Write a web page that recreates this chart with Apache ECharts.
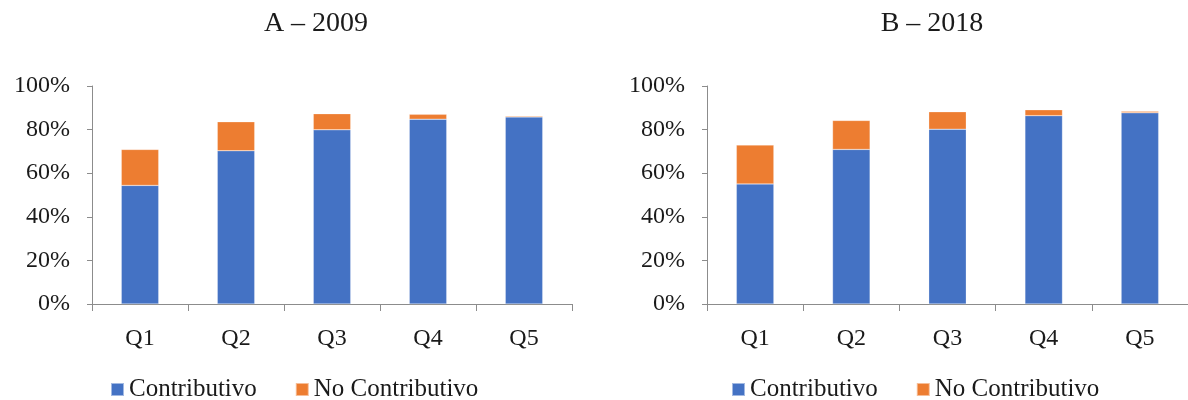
<!DOCTYPE html>
<html>
<head>
<meta charset="utf-8">
<script src="https://cdn.jsdelivr.net/npm/echarts@6/dist/echarts.min.js"></script>
<style>
  html, body { margin: 0; padding: 0; background: #fff; }
  #chart { width: 1188px; height: 400px; }
</style>
</head>
<body>
<div id="chart"></div>
<script>
// datos (porcentajes)
var quintiles = ['Q1', 'Q2', 'Q3', 'Q4', 'Q5'];
var contrib2009 = [54.4, 70.3, 79.9, 84.8, 85.8];
var noContrib2009 = [16.5, 13.3, 7.4, 2.2, 0.4];
var contrib2018 = [55.1, 70.9, 80.2, 86.4, 87.7];
var noContrib2018 = [17.8, 13.3, 8.0, 2.7, 0.7];
var yTicks = [0, 20, 40, 60, 80, 100];

var FONT = 'Liberation Serif';
var AXIS_COLOR = '#8c8c8c';
var BLUE = '#4472C4';
var ORANGE = '#ED7D31';

function xAxisFor(idx) {
    return {
        type: 'category',
        gridIndex: idx,
        data: quintiles,
        axisLine: { lineStyle: { color: AXIS_COLOR, width: 1 } },
        axisTick: { show: true, length: 7, lineStyle: { color: AXIS_COLOR } },
        axisLabel: { fontFamily: FONT, fontSize: 24, color: '#1a1a1a', margin: 23 }
    };
}

function yAxisFor(idx) {
    return {
        type: 'value',
        gridIndex: idx,
        min: yTicks[0],
        max: yTicks[yTicks.length - 1],
        interval: 20,
        splitLine: { show: false },
        axisLine: { show: true, lineStyle: { color: AXIS_COLOR, width: 1 } },
        axisTick: { show: true, length: 5, lineStyle: { color: AXIS_COLOR } },
        axisLabel: { fontFamily: FONT, fontSize: 24, color: '#1a1a1a', margin: 22, formatter: '{value}%' }
    };
}

function barSeries(name, data, idx, color, stack) {
    return {
        name: name,
        type: 'bar',
        xAxisIndex: idx,
        yAxisIndex: idx,
        stack: stack,
        data: data,
        barWidth: '39%',
        itemStyle: { color: color, borderColor: 'rgba(255,255,255,0.5)', borderWidth: 0.5 },
        emphasis: { disabled: true }
    };
}

function legendFor(left) {
    return {
        left: left,
        top: 372,
        icon: 'rect',
        itemWidth: 13,
        itemHeight: 13,
        itemGap: 38,
        selectedMode: false,
        textStyle: { fontFamily: FONT, fontSize: 25, color: '#1a1a1a' },
        data: ['Contributivo', 'No Contributivo']
    };
}

var myChart = echarts.init(document.getElementById('chart'));

var option = {
    animation: false,
    backgroundColor: '#fff',
    textStyle: { fontFamily: FONT },
    graphic: [
        { type: 'text', x: 316, y: 10, style: { text: 'A – 2009', fontFamily: FONT, fontSize: 28, fill: '#1a1a1a', align: 'center', textAlign: 'center' } },
        { type: 'text', x: 932, y: 10, style: { text: 'B – 2018', fontFamily: FONT, fontSize: 28, fill: '#1a1a1a', align: 'center', textAlign: 'center' } }
    ],
    grid: [
        { left: 92, top: 86, width: 480, height: 218 },
        { left: 707, top: 86, width: 491, height: 218 }
    ],
    legend: [legendFor(105), legendFor(726)],
    xAxis: [xAxisFor(0), xAxisFor(1)],
    yAxis: [yAxisFor(0), yAxisFor(1)],
    series: [
        barSeries('Contributivo', contrib2009, 0, BLUE, 'a'),
        barSeries('No Contributivo', noContrib2009, 0, ORANGE, 'a'),
        barSeries('Contributivo', contrib2018, 1, BLUE, 'b'),
        barSeries('No Contributivo', noContrib2018, 1, ORANGE, 'b')
    ]
};

myChart.setOption(option);
</script>
</body>
</html>
